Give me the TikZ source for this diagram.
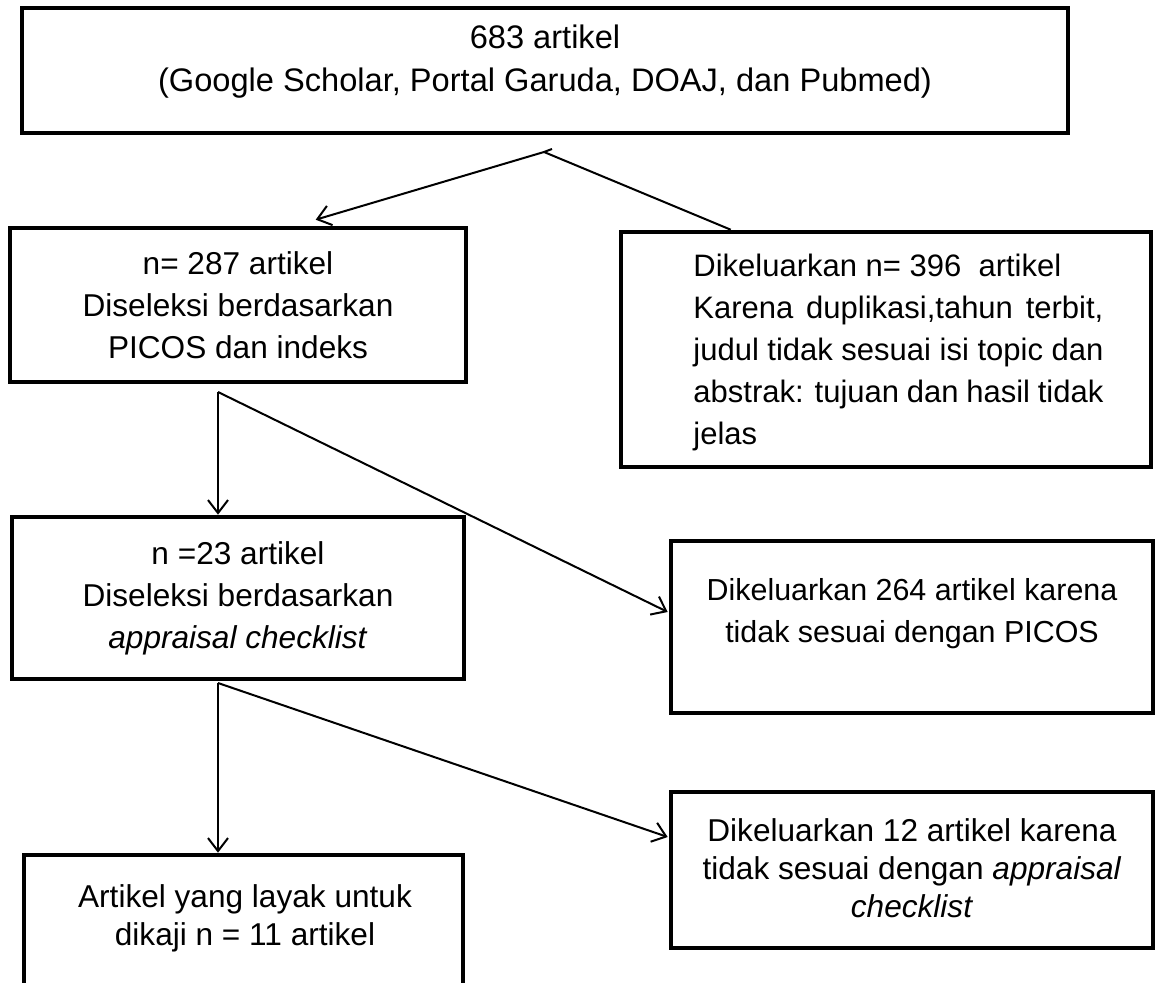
\documentclass[tikz,border=0pt]{standalone}
\usepackage{fontspec}
\setmainfont{Liberation Sans}
\usetikzlibrary{arrows.meta,calc}
\begin{document}
\begin{tikzpicture}[x=0.5pt,y=-0.5pt,
  every node/.style={font=\fontsize{15.8}{21}\selectfont},
  small/.style={font=\fontsize{15.2}{21}\selectfont},
  box/.style={draw, line width=2.3pt, inner sep=0pt, align=center},
  txt/.style={inner sep=0pt},
  conn/.style={line width=1pt},
  arr/.style={line width=1pt, -{Straight Barb[length=6.5pt,width=10pt,line width=1pt]}}]
\useasboundingbox (0,0) rectangle (1155,983);
\fill[white] (0,0) rectangle (1155,983);
\clip (0,0) rectangle (1155,983);
% boxes
\node[box, minimum width=523pt, minimum height=62.5pt] (top) at (545,70.5) {};
\node[txt, anchor=north, align=center, font=\fontsize{16.3}{21.5}\selectfont] (toptext) at (545,24) {683 artikel\\(Google Scholar, Portal Garuda, DOAJ, dan Pubmed)};
\node[box, minimum width=228pt, minimum height=77pt] (A) at (238,305) {n= 287 artikel\\Diseleksi berdasarkan\\PICOS dan indeks};
\node[box, minimum width=265pt, minimum height=117.5pt] (B) at (886,349.5) {};
\node[txt, anchor=north west, align=left, font=\fontsize{15.5}{21}\selectfont] (Btext) at (693,254) {Dikeluarkan n= 396\ \ artikel\\
\makebox[205pt][s]{Karena duplikasi,tahun terbit,}\\
\makebox[205pt][s]{judul tidak sesuai isi topic dan}\\
\makebox[205pt][s]{abstrak: tujuan dan hasil tidak}\\
jelas};
\node[box, minimum width=226pt, minimum height=81pt] (C) at (238,598) {n =23 artikel\\Diseleksi berdasarkan\\\textit{appraisal checklist}};
\node[box, minimum width=241pt, minimum height=86pt] (D) at (912,627) {};
\node[txt, small, align=center] (Dtext) at (912,614) {Dikeluarkan 264 artikel karena\\tidak sesuai dengan PICOS};
\node[box, minimum width=219.5pt, minimum height=70pt] (E) at (243.5,925) {};
\node[txt, anchor=north, align=center, font=\fontsize{15.8}{19}\selectfont] (Etext) at (245,884) {Artikel yang layak untuk\\dikaji n = 11 artikel};
\node[box, minimum width=241pt, minimum height=78pt] (F) at (912,870) {};
\node[txt, align=center, font=\fontsize{15.8}{19}\selectfont] (Ftext) at (912,868) {Dikeluarkan 12 artikel karena\\tidak sesuai dengan \textit{appraisal}\\\textit{checklist}};
% split points
\coordinate (s1) at (544,152);
\coordinate (s1t) at (552,149);
\coordinate (s2) at (218,392);
\coordinate (s3) at (218,683);
% connectors
\draw[conn] (s1) -- (s1t);
\draw[arr] (s1) -- ($(A.north west)+(308,-6)$);
\draw[conn] (s1) -- ($(B.north west)+(112,0)$);
\draw[arr] (s2) -- (s2 |- C.north);
\draw[arr] (s2) -- ($(D.west)+(-1,-15)$);
\draw[arr] (s3) -- (s3 |- E.north);
\draw[arr] (s3) -- ($(F.west)+(-1,-33)$);
\end{tikzpicture}
\end{document}
